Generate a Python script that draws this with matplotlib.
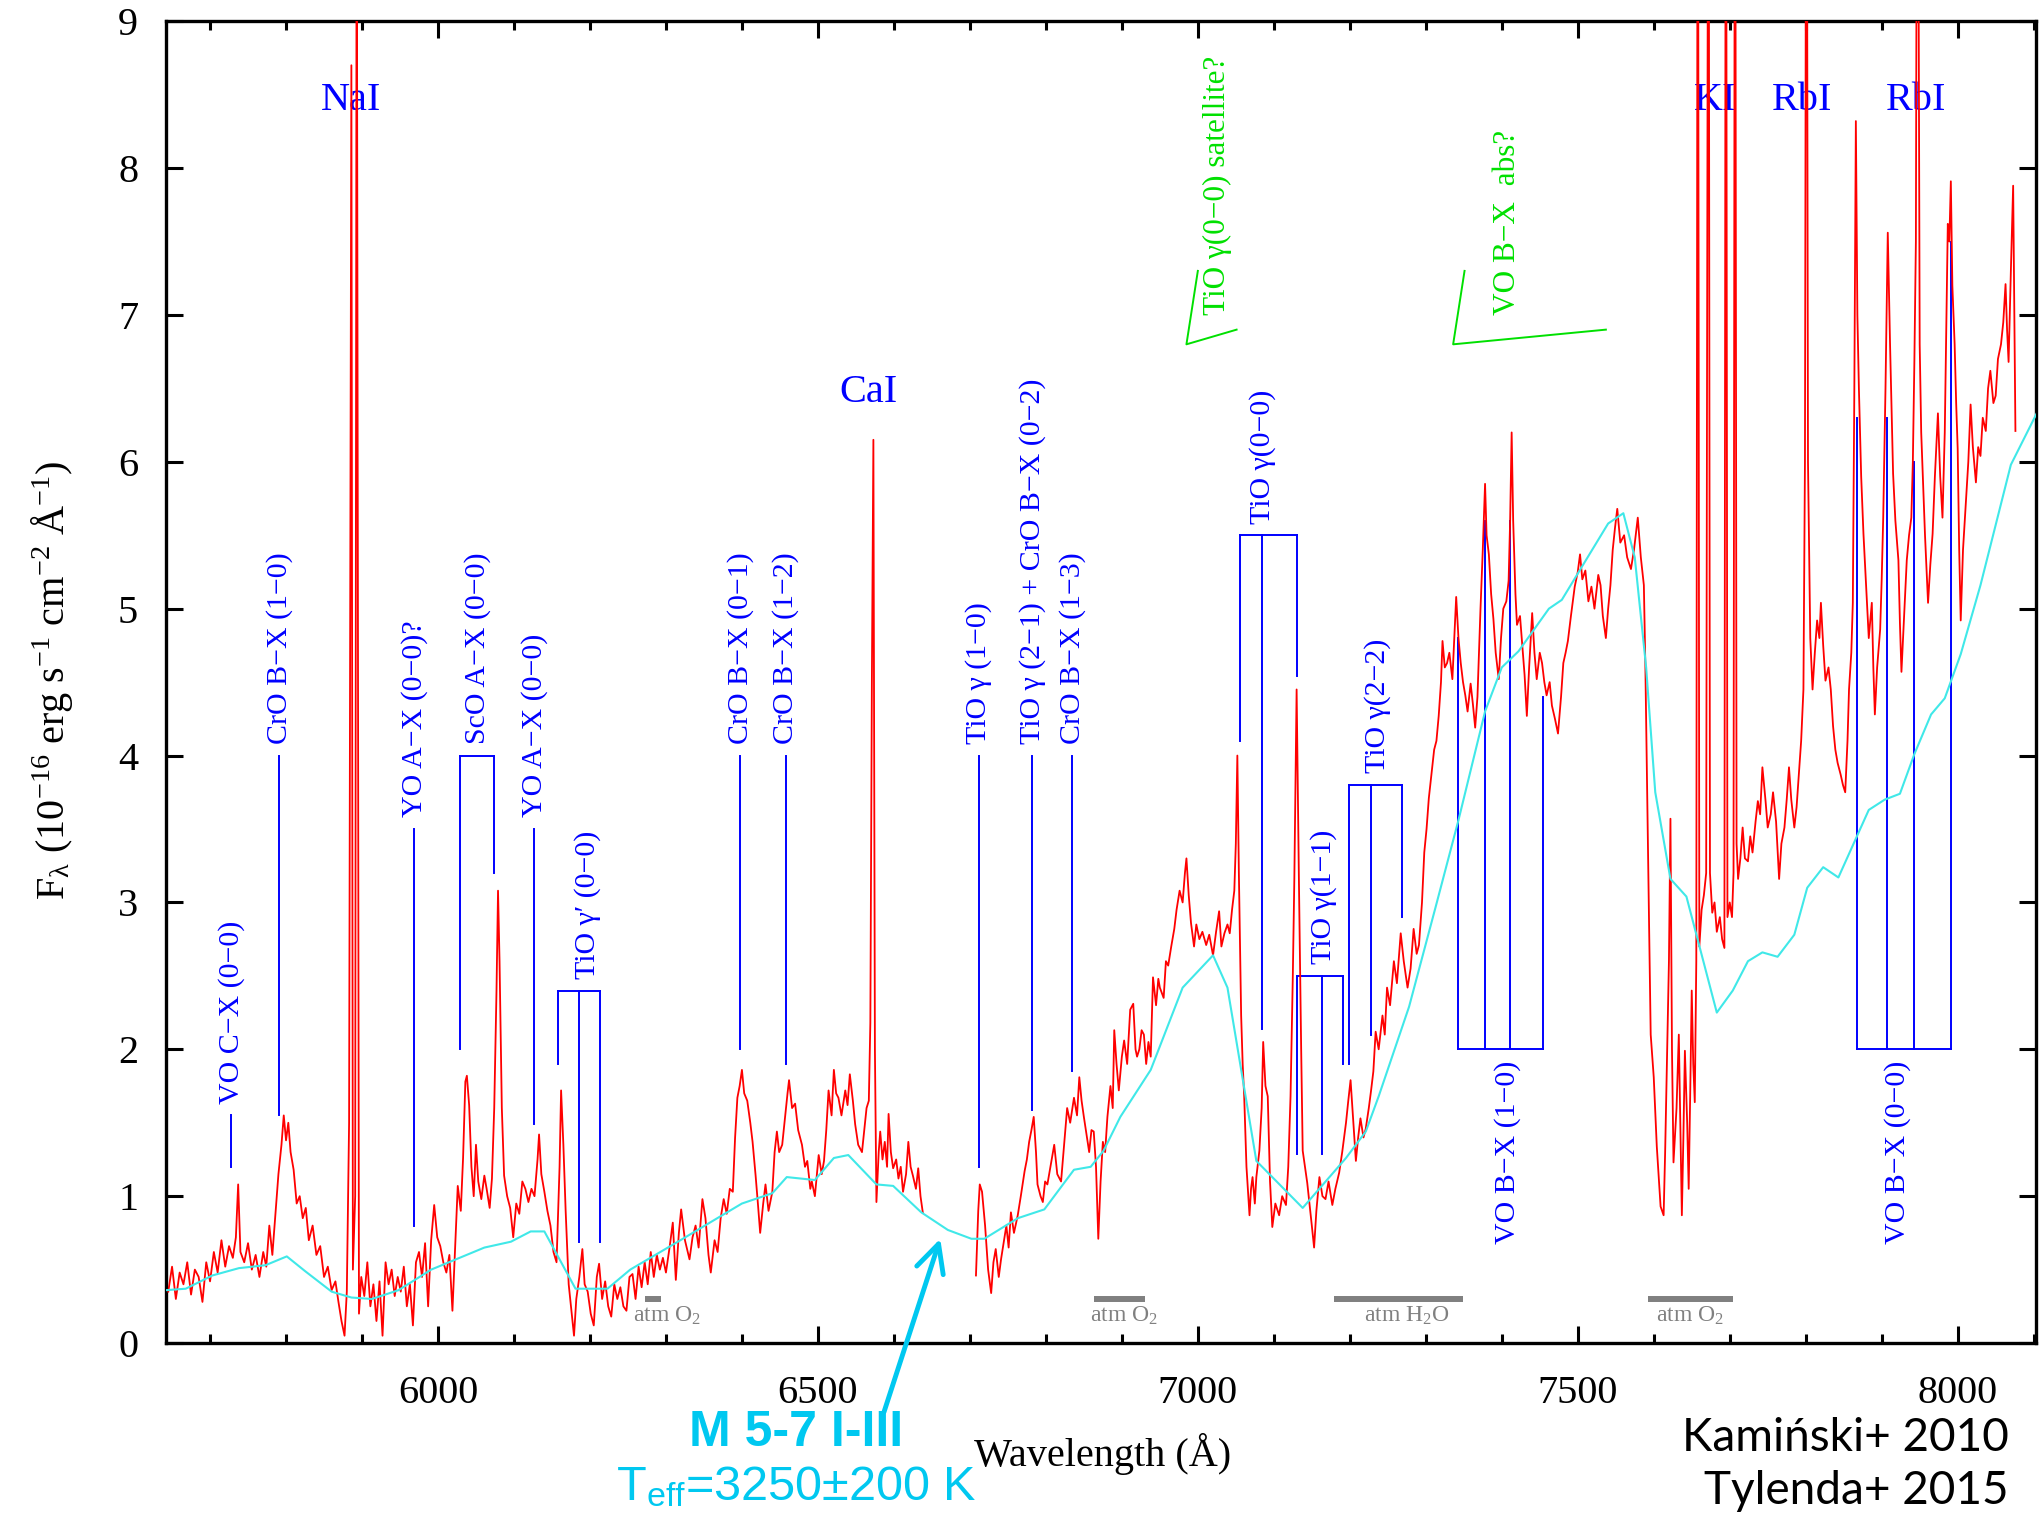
import numpy as np
import matplotlib
matplotlib.use("Agg")
import matplotlib.pyplot as plt
from matplotlib.ticker import MultipleLocator

plt.rcParams['font.family'] = ['Liberation Serif', 'DejaVu Serif']
plt.rcParams['mathtext.fontset'] = 'custom'
plt.rcParams['mathtext.rm'] = 'Liberation Serif'
plt.rcParams['mathtext.it'] = 'Liberation Serif:italic'
plt.rcParams['mathtext.sf'] = 'Liberation Sans'

nan = np.nan

wave = [
    5645, 5650, 5655, 5660, 5665, 5670, 5675, 5680, 5685, 5690,
    5695, 5700, 5705, 5710, 5715, 5720, 5725, 5730, 5734, 5737,
    5740, 5745, 5750, 5755, 5760, 5765, 5770, 5774, 5778, 5782,
    5786, 5790, 5794, 5797, 5800, 5803, 5806, 5810, 5814, 5818,
    5822, 5826, 5830, 5835, 5840, 5845, 5850, 5855, 5860, 5865,
    5869, 5873, 5877, 5880, 5883, 5886, 5888, 5891, 5893, 5896,
    5899, 5903, 5907, 5911, 5915, 5919, 5923, 5927, 5931, 5935,
    5939, 5943, 5947, 5951, 5955, 5959, 5963, 5967, 5971, 5975,
    5979, 5983, 5987, 5991, 5995, 5999, 6003, 6007, 6011, 6015,
    6019, 6023, 6026, 6030, 6033, 6036, 6038, 6041, 6044, 6047,
    6050, 6053, 6057, 6061, 6064, 6068, 6071, 6074, 6077, 6079,
    6081, 6084, 6087, 6091, 6095, 6099, 6103, 6107, 6111, 6115,
    6119, 6123, 6127, 6131, 6133, 6136, 6140, 6144, 6148, 6152,
    6156, 6160, 6162, 6165, 6168, 6172, 6176, 6179, 6182, 6186,
    6190, 6193, 6197, 6201, 6205, 6209, 6212, 6216, 6220, 6224,
    6228, 6232, 6236, 6240, 6244, 6248, 6252, 6256, 6260, 6264,
    6268, 6272, 6276, 6280, 6284, 6288, 6292, 6296, 6300, 6305,
    6309, 6313, 6317, 6320, 6325, 6331, 6335, 6339, 6343, 6348,
    6352, 6356, 6359, 6364, 6368, 6372, 6376, 6380, 6384, 6388,
    6391, 6394, 6397, 6400, 6403, 6407, 6411, 6414, 6418, 6421,
    6424, 6428, 6431, 6435, 6440, 6443, 6446, 6449, 6453, 6457,
    6460, 6462, 6466, 6470, 6474, 6479, 6483, 6486, 6490, 6492,
    6496, 6501, 6505, 6508, 6511, 6514, 6518, 6521, 6524, 6527,
    6531, 6536, 6539, 6542, 6546, 6549, 6553, 6558, 6561, 6564,
    6567, 6569, 6571, 6573, 6575, 6577, 6580, 6582, 6585, 6588,
    6591, 6593, 6596, 6599, 6603, 6606, 6609, 6612, 6616, 6619,
    6622, 6625, 6629, 6632, 6635, 6638, 6640, 6706, 6708, 6711,
    6713, 6716, 6720, 6724, 6728, 6731, 6734, 6738, 6741, 6745,
    6748, 6751, 6754, 6758, 6763, 6767, 6772, 6775, 6778, 6781,
    6784, 6787, 6789, 6793, 6796, 6799, 6802, 6806, 6811, 6815,
    6820, 6824, 6828, 6832, 6837, 6841, 6844, 6847, 6850, 6854,
    6857, 6860, 6863, 6866, 6869, 6872, 6875, 6878, 6881, 6885,
    6888, 6890, 6893, 6896, 6900, 6903, 6907, 6911, 6915, 6918,
    6920, 6923, 6926, 6929, 6932, 6935, 6938, 6941, 6945, 6948,
    6950, 6955, 6958, 6961, 6965, 6969, 6972, 6976, 6980, 6983,
    6985, 6988, 6991, 6995, 6998, 7002, 7006, 7011, 7015, 7020,
    7024, 7028, 7031, 7035, 7039, 7042, 7045, 7048, 7050, 7052,
    7054, 7057, 7059, 7061, 7064, 7068, 7070, 7072, 7075, 7077,
    7081, 7084, 7086, 7089, 7092, 7095, 7098, 7102, 7107, 7111,
    7116, 7119, 7122, 7125, 7127, 7129, 7130, 7132, 7133, 7136,
    7138, 7141, 7144, 7148, 7150, 7153, 7156, 7160, 7164, 7168,
    7172, 7177, 7181, 7186, 7190, 7195, 7198, 7201, 7204, 7208,
    7211, 7214, 7218, 7221, 7225, 7228, 7231, 7234, 7238, 7243,
    7246, 7249, 7253, 7258, 7262, 7267, 7271, 7276, 7280, 7284,
    7288, 7291, 7295, 7298, 7301, 7304, 7308, 7311, 7314, 7317,
    7320, 7322, 7325, 7328, 7331, 7335, 7338, 7340, 7343, 7346,
    7349, 7352, 7355, 7359, 7362, 7365, 7368, 7372, 7375, 7378,
    7380, 7383, 7386, 7389, 7392, 7396, 7399, 7402, 7406, 7409,
    7411, 7413, 7415, 7418, 7420, 7424, 7427, 7430, 7433, 7436,
    7440, 7443, 7446, 7450, 7453, 7456, 7459, 7463, 7466, 7470,
    7474, 7478, 7481, 7484, 7487, 7491, 7496, 7500, 7503, 7506,
    7510, 7514, 7518, 7522, 7527, 7530, 7533, 7537, 7540, 7543,
    7546, 7549, 7552, 7556, 7561, 7565, 7570, 7574, 7579, 7583,
    7587, 7589, 7591, 7594, 7596, 7600, 7604, 7607, 7609, 7613,
    7615, 7617, 7620, 7622, 7624, 7626, 7630, 7633, 7635, 7637,
    7639, 7641, 7644, 7646, 7648, 7650, 7652, 7654, 7656, 7658,
    7660, 7663, 7666, 7669, 7672, 7674, 7677, 7680, 7683, 7687,
    7690, 7693, 7695, 7697, 7700, 7703, 7705, 7707, 7709, 7711,
    7714, 7717, 7720, 7724, 7727, 7730, 7734, 7737, 7740, 7743,
    7747, 7750, 7754, 7757, 7761, 7765, 7768, 7772, 7775, 7778,
    7781, 7785, 7788, 7791, 7794, 7797, 7799, 7801, 7803, 7806,
    7809, 7812, 7815, 7818, 7820, 7823, 7826, 7830, 7833, 7836,
    7839, 7842, 7846, 7849, 7852, 7855, 7857, 7860, 7862, 7864,
    7866, 7868, 7870, 7873, 7876, 7880, 7883, 7887, 7889, 7891,
    7894, 7898, 7900, 7902, 7905, 7908, 7911, 7915, 7918, 7922,
    7924, 7926, 7929, 7933, 7936, 7939, 7941, 7943, 7945, 7947,
    7950, 7952, 7954, 7957, 7961, 7964, 7967, 7970, 7974, 7977,
    7980, 7983, 7987, 7989, 7991, 7993, 7996, 7998, 8000, 8002,
    8004, 8007, 8011, 8014, 8017, 8020, 8024, 8027, 8030, 8033,
    8037, 8040, 8043, 8047, 8050, 8053, 8057, 8060, 8063, 8065,
    8067, 8070, 8073, 8076,
]
flux = [
    0.35, 0.52, 0.30, 0.48, 0.40, 0.55, 0.33, 0.50, 0.45, 0.28,
    0.55, 0.42, 0.62, 0.48, 0.70, 0.52, 0.66, 0.58, 0.72, 1.08,
    0.62, 0.55, 0.68, 0.50, 0.60, 0.45, 0.62, 0.52, 0.80, 0.60,
    0.88, 1.15, 1.35, 1.55, 1.38, 1.50, 1.30, 1.18, 0.95, 1.00,
    0.85, 0.92, 0.70, 0.80, 0.60, 0.66, 0.45, 0.52, 0.36, 0.42,
    0.28, 0.15, 0.05, 0.35, 1.50, 8.70, 0.50, 1.00, 10.5, 0.20,
    0.45, 0.32, 0.55, 0.25, 0.40, 0.15, 0.42, 0.05, 0.55, 0.40,
    0.50, 0.32, 0.45, 0.35, 0.52, 0.25, 0.40, 0.12, 0.55, 0.62,
    0.45, 0.68, 0.25, 0.70, 0.94, 0.72, 0.66, 0.55, 0.48, 0.60,
    0.22, 0.70, 1.07, 0.90, 1.26, 1.78, 1.82, 1.62, 1.20, 1.00,
    1.35, 1.10, 0.98, 1.14, 1.05, 0.92, 1.12, 1.60, 2.40, 3.08,
    2.60, 1.60, 1.14, 1.00, 0.92, 0.72, 0.95, 0.88, 1.10, 1.05,
    0.96, 1.05, 1.00, 1.25, 1.42, 1.15, 1.03, 0.90, 0.80, 0.62,
    0.55, 1.20, 1.72, 1.35, 0.90, 0.40, 0.20, 0.05, 0.30, 0.45,
    0.64, 0.40, 0.35, 0.20, 0.12, 0.45, 0.54, 0.30, 0.42, 0.25,
    0.18, 0.40, 0.30, 0.38, 0.25, 0.22, 0.45, 0.47, 0.30, 0.52,
    0.38, 0.55, 0.40, 0.62, 0.45, 0.60, 0.50, 0.58, 0.48, 0.66,
    0.82, 0.43, 0.75, 0.91, 0.70, 0.57, 0.72, 0.80, 0.65, 0.98,
    0.85, 0.60, 0.48, 0.70, 0.62, 0.85, 0.98, 0.88, 1.05, 1.03,
    1.40, 1.67, 1.75, 1.86, 1.70, 1.65, 1.50, 1.37, 1.14, 0.95,
    0.75, 0.95, 1.08, 0.90, 1.03, 1.30, 1.44, 1.30, 1.35, 1.55,
    1.70, 1.79, 1.60, 1.63, 1.45, 1.35, 1.20, 1.24, 1.05, 1.10,
    1.00, 1.28, 1.15, 1.24, 1.45, 1.72, 1.55, 1.86, 1.70, 1.67,
    1.55, 1.72, 1.62, 1.83, 1.65, 1.49, 1.35, 1.30, 1.45, 1.60,
    1.65, 2.18, 4.50, 6.15, 2.00, 0.96, 1.30, 1.44, 1.25, 1.37,
    1.20, 1.56, 1.30, 1.19, 1.25, 1.12, 1.20, 1.03, 1.15, 1.37,
    1.20, 1.14, 1.05, 1.19, 1.00, 0.89, nan, nan, 0.46, 0.90,
    1.08, 1.03, 0.80, 0.50, 0.34, 0.55, 0.64, 0.45, 0.57, 0.70,
    0.80, 0.65, 0.89, 0.75, 0.87, 1.00, 1.17, 1.25, 1.37, 1.45,
    1.54, 1.30, 1.08, 1.00, 0.96, 1.10, 1.08, 1.20, 1.35, 1.15,
    1.10, 1.35, 1.60, 1.50, 1.67, 1.55, 1.81, 1.65, 1.54, 1.40,
    1.30, 1.45, 1.44, 1.20, 0.71, 1.10, 1.37, 1.30, 1.54, 1.75,
    1.60, 2.13, 1.90, 1.72, 1.95, 2.06, 1.90, 2.27, 2.31, 2.00,
    1.95, 2.00, 2.13, 2.10, 1.90, 2.05, 1.95, 2.49, 2.30, 2.48,
    2.42, 2.35, 2.60, 2.57, 2.70, 2.82, 2.95, 3.08, 3.00, 3.20,
    3.30, 3.05, 2.86, 2.70, 2.85, 2.75, 2.80, 2.71, 2.78, 2.64,
    2.80, 2.94, 2.70, 2.79, 2.85, 2.79, 2.95, 3.08, 3.40, 4.00,
    3.20, 2.23, 1.90, 1.68, 1.20, 0.87, 1.05, 1.13, 0.95, 1.13,
    1.31, 1.60, 2.05, 1.75, 1.68, 1.10, 0.79, 0.95, 0.87, 1.00,
    0.94, 1.20, 1.68, 2.50, 3.16, 4.00, 4.45, 3.60, 3.16, 2.00,
    1.31, 1.20, 1.09, 0.90, 0.80, 0.65, 0.90, 1.13, 1.00, 0.98,
    1.10, 0.94, 1.05, 1.16, 1.30, 1.50, 1.65, 1.79, 1.55, 1.24,
    1.40, 1.53, 1.40, 1.46, 1.60, 1.72, 1.85, 2.12, 2.00, 2.23,
    2.10, 2.42, 2.30, 2.60, 2.45, 2.79, 2.60, 2.42, 2.55, 2.82,
    2.65, 2.71, 3.00, 3.34, 3.50, 3.71, 3.90, 4.04, 4.10, 4.27,
    4.50, 4.78, 4.60, 4.63, 4.70, 4.52, 4.85, 5.08, 4.80, 4.63,
    4.50, 4.41, 4.30, 4.49, 4.35, 4.19, 4.40, 5.00, 5.40, 5.85,
    5.50, 5.37, 5.10, 4.93, 4.70, 4.52, 4.80, 5.00, 5.05, 5.19,
    5.60, 6.20, 5.60, 5.10, 4.89, 4.95, 4.75, 4.55, 4.27, 4.60,
    4.97, 4.70, 4.52, 4.70, 4.63, 4.50, 4.41, 4.50, 4.34, 4.25,
    4.15, 4.40, 4.63, 4.70, 4.78, 4.95, 5.15, 5.25, 5.37, 5.20,
    5.26, 5.05, 5.15, 5.00, 5.23, 5.16, 4.95, 4.80, 5.00, 5.16,
    5.40, 5.55, 5.68, 5.45, 5.50, 5.35, 5.27, 5.40, 5.62, 5.35,
    5.16, 4.60, 3.87, 2.80, 2.10, 1.81, 1.34, 1.10, 0.93, 0.87,
    1.30, 1.81, 2.60, 3.57, 2.00, 1.23, 1.60, 2.10, 1.50, 0.87,
    1.40, 1.99, 1.50, 1.05, 1.70, 2.40, 1.90, 1.64, 2.60, 12.0,
    2.70, 2.95, 3.05, 3.20, 12.0, 3.20, 2.93, 3.00, 2.80, 2.90,
    2.75, 2.69, 12.0, 2.90, 3.00, 2.90, 3.20, 12.0, 3.40, 3.16,
    3.30, 3.51, 3.30, 3.28, 3.45, 3.34, 3.55, 3.69, 3.60, 3.92,
    3.70, 3.51, 3.60, 3.75, 3.55, 3.16, 3.40, 3.51, 3.70, 3.92,
    3.70, 3.51, 3.65, 3.87, 4.10, 4.45, 6.00, 12.0, 6.00, 4.80,
    4.45, 4.70, 4.92, 4.80, 5.04, 4.75, 4.51, 4.60, 4.45, 4.20,
    4.04, 3.95, 3.87, 3.80, 3.75, 4.10, 4.45, 4.70, 5.04, 6.50,
    8.32, 7.00, 6.50, 5.90, 5.51, 5.10, 4.80, 5.04, 4.60, 4.28,
    4.60, 4.86, 5.20, 5.62, 6.50, 7.56, 6.80, 5.92, 5.60, 5.33,
    4.90, 4.57, 4.90, 5.33, 5.50, 5.62, 6.00, 6.68, 7.50, 12.0,
    6.80, 6.20, 5.92, 5.50, 5.04, 5.30, 5.51, 5.90, 6.33, 5.90,
    5.62, 6.20, 7.62, 7.50, 7.91, 7.20, 6.80, 6.40, 6.09, 5.40,
    4.92, 5.40, 5.74, 6.00, 6.39, 6.10, 5.86, 6.10, 6.04, 6.30,
    6.21, 6.50, 6.62, 6.40, 6.45, 6.70, 6.80, 6.95, 7.21, 6.90,
    6.68, 7.30, 7.88, 6.21,
]

# M 5-7 I-III template (cyan)
tmpl_wave = [5642, 5668, 5703, 5738, 5773, 5801, 5825, 5860, 5886, 5913,
             5948, 5991, 6061, 6096, 6122, 6140, 6181, 6223, 6253, 6319,
             6374, 6400, 6440, 6459, 6496, 6521, 6540, 6577, 6599, 6636,
             6671, 6702, 6719, 6763, 6798, 6837, 6859, 6876, 6898, 6938,
             6980, 7020, 7039, 7077, 7138, 7195, 7221, 7238, 7278, 7313,
             7343, 7378, 7400, 7422, 7462, 7479, 7540, 7560, 7575, 7590,
             7602, 7622, 7643, 7683, 7704, 7724, 7743, 7763, 7785, 7802,
             7823, 7843, 7883, 7904, 7924, 7943, 7965, 7983, 8004, 8030,
             8070, 8104]
tmpl_flux = [0.36, 0.37, 0.46, 0.51, 0.53, 0.59, 0.49, 0.35, 0.31, 0.30,
             0.36, 0.50, 0.65, 0.69, 0.76, 0.76, 0.37, 0.37, 0.50, 0.70,
             0.87, 0.95, 1.02, 1.13, 1.11, 1.26, 1.28, 1.08, 1.07, 0.89,
             0.77, 0.71, 0.71, 0.85, 0.91, 1.18, 1.20, 1.31, 1.54, 1.86,
             2.42, 2.64, 2.42, 1.24, 0.92, 1.26, 1.44, 1.68, 2.29, 2.97,
             3.56, 4.30, 4.60, 4.71, 5.00, 5.06, 5.58, 5.65, 5.35, 4.60,
             3.75, 3.16, 3.04, 2.25, 2.40, 2.60, 2.66, 2.63, 2.78, 3.10,
             3.24, 3.17, 3.63, 3.70, 3.74, 4.01, 4.28, 4.39, 4.69, 5.16,
             5.98, 6.33]

# single band markers: wavelength, line bottom, line top, label
single_x = [5728, 5791, 5969, 6127, 6398, 6458, 6712, 6782, 6835]
single_bot = [1.20, 1.55, 0.80, 1.49, 2.00, 1.90, 1.20, 1.59, 1.85]
single_top = [1.55, 4.00, 3.50, 3.50, 4.00, 4.00, 4.00, 4.00, 4.00]
single_lab = ["VO C−X (0−0)", "CrO B−X (1−0)", "YO A−X (0−0)?", "YO A−X (0−0)",
              "CrO B−X (0−1)", "CrO B−X (1−2)", "TiO γ (1−0)",
              "TiO γ (2−1) + CrO B−X (0−2)", "CrO B−X (1−3)"]

# bracketed bands: leg wavelengths, leg bottoms, top
brk_legs = [[6029, 6074], [6158, 6186, 6213], [7055, 7084, 7131],
            [7130, 7164, 7191], [7199, 7228, 7269]]
brk_bots = [[2.0, 3.2], [1.9, 0.69, 0.69], [4.1, 2.14, 4.54],
            [1.29, 1.29, 1.9], [1.9, 2.1, 2.9]]
brk_top = [4.0, 2.4, 5.5, 2.5, 3.8]
brk_lab = ["ScO A−X (0−0)", "TiO γ′ (0−0)", "TiO γ(0−0)", "TiO γ(1−1)", "TiO γ(2−2)"]
brk_lab_x = [6052, 6197, 7085, 7166, 7236]

# VO B-X boxes (open at top, bottom at 2.0)
box_legs = [[7342, 7378, 7411, 7454], [7867, 7907, 7943, 7991]]
box_tops = [[4.8, 5.6, 5.6, 4.4], [6.3, 6.3, 6.0, 7.5]]
box_lab = ["VO B−X (1−0)", "VO B−X (0−0)"]
box_lab_x = [7407, 7921]

# atomic lines
atom_lab = ["NaI", "CaI", "KI", "RbI", "RbI"]
atom_x = [5886, 6566, 7681, 7795, 7945]
atom_y = [8.46, 6.47, 8.46, 8.46, 8.46]

# telluric bands
atm_start = [6272, 6863, 7179, 7593]
atm_end = [6294, 6931, 7349, 7704]
atm_lab_x = [6301, 6903, 7275, 7648]
atm_lab = ["atm O$_2$", "atm O$_2$", "atm H$_2$O", "atm O$_2$"]

blue = "#0000ff"
green = "#00e000"
cyan_t = "#40e8e8"
cyan_a = "#00c8f0"

fig = plt.figure(figsize=(20.39, 15.15), dpi=100)
ax = fig.add_axes([0.0814, 0.1135, 0.9171, 0.8725])

# band markers
for x, b, t, s in zip(single_x, single_bot, single_top, single_lab):
    ax.plot([x, x], [b, t], color=blue, lw=1.4, zorder=2)
    ax.text(x, t + 0.08, s, rotation=90, ha="center", va="bottom",
            color=blue, fontsize=21.5)

for legs, bots, top, s, lx in zip(brk_legs, brk_bots, brk_top, brk_lab, brk_lab_x):
    ax.plot([legs[0], legs[-1]], [top, top], color=blue, lw=1.4, zorder=2)
    for x, b in zip(legs, bots):
        ax.plot([x, x], [b, top], color=blue, lw=1.4, zorder=2)
    ax.text(lx, top + 0.08, s, rotation=90, ha="center", va="bottom",
            color=blue, fontsize=21.5)

for legs, tops, s, lx in zip(box_legs, box_tops, box_lab, box_lab_x):
    ax.plot([legs[0], legs[-1]], [2.0, 2.0], color=blue, lw=1.4, zorder=2)
    for x, t in zip(legs, tops):
        ax.plot([x, x], [2.0, t], color=blue, lw=1.4, zorder=2)
    ax.text(lx, 1.92, s, rotation=90, ha="center", va="top",
            color=blue, fontsize=21.5)

# green tentative features
ax.plot([7000, 6985, 7051], [7.3, 6.8, 6.9], color=green, lw=1.4)
ax.plot([7351, 7336, 7537], [7.3, 6.8, 6.9], color=green, lw=1.4)
ax.text(7026, 7.0, "TiO γ(0−0) satellite?", rotation=90, ha="center", va="bottom",
        color=green, fontsize=22.5)
ax.text(7408, 7.0, "VO B−X  abs?", rotation=90, ha="center", va="bottom",
        color=green, fontsize=22.5)

for s, x, y in zip(atom_lab, atom_x, atom_y):
    ax.text(x, y, s, ha="center", va="center", color=blue, fontsize=29)

for a, b, x, s in zip(atm_start, atm_end, atm_lab_x, atm_lab):
    ax.plot([a, b], [0.3, 0.3], color="#808080", lw=4.3, solid_capstyle="butt")
    ax.text(x, 0.26, s, ha="center", va="top", color="#808080", fontsize=17)

ax.plot(wave, flux, color="#ff0000", lw=1.3, zorder=3)
ax.plot(tmpl_wave, tmpl_flux, color=cyan_t, lw=1.5, zorder=4)

ax.set_xlim(5642, 8103)
ax.set_ylim(0, 9)
ax.xaxis.set_major_locator(MultipleLocator(500))
ax.xaxis.set_minor_locator(MultipleLocator(100))
ax.yaxis.set_major_locator(MultipleLocator(1))
ax.tick_params(which="both", direction="in", top=True, right=True, width=2.2)
ax.tick_params(which="major", length=12)
ax.tick_params(which="minor", length=6.5)
ax.tick_params(axis="x", labelsize=29, pad=23)
ax.tick_params(axis="y", labelsize=29, pad=20)
for sp in ax.spines.values():
    sp.set_linewidth(2.4)

fig.text(52 / 2039, 1 - 680 / 1515,
         r"F$_{\mathrm{λ}}$ (10$^{-16}$ erg s$^{-1}$ cm$^{-2}$ Å$^{-1}$)",
         rotation=90, ha="center", va="center", fontsize=29)
fig.text(1103 / 2039, 1 - 1454 / 1515, "Wavelength (Å)", ha="center", va="center",
         fontsize=29)

# template annotation
ax.annotate("", xy=(6661, 0.71), xycoords="data",
            xytext=(884, 1515 - 1412), textcoords="figure pixels",
            arrowprops=dict(arrowstyle="->", color=cyan_a, lw=3.5,
                            mutation_scale=50, shrinkA=0, shrinkB=0),
            annotation_clip=False)
fig.text(796 / 2039, 1 - 1433 / 1515, "M 5-7 I-III", ha="center", va="center",
         color=cyan_a, fontsize=36, fontweight="bold", family="Liberation Sans")
fig.text(796 / 2039, 1 - 1488 / 1515, r"T$_{\mathsf{eff}}$=3250±200 K", ha="center",
         va="center", color=cyan_a, fontsize=35, family="Liberation Sans")

fig.text(2009 / 2039, 1 - 1438 / 1515, "Kamiński+ 2010", ha="right", va="center",
         fontsize=33, family="Lato")
fig.text(2009 / 2039, 1 - 1491 / 1515, "Tylenda+ 2015", ha="right", va="center",
         fontsize=33, family="Lato")

fig.savefig("out.png", dpi=100)
